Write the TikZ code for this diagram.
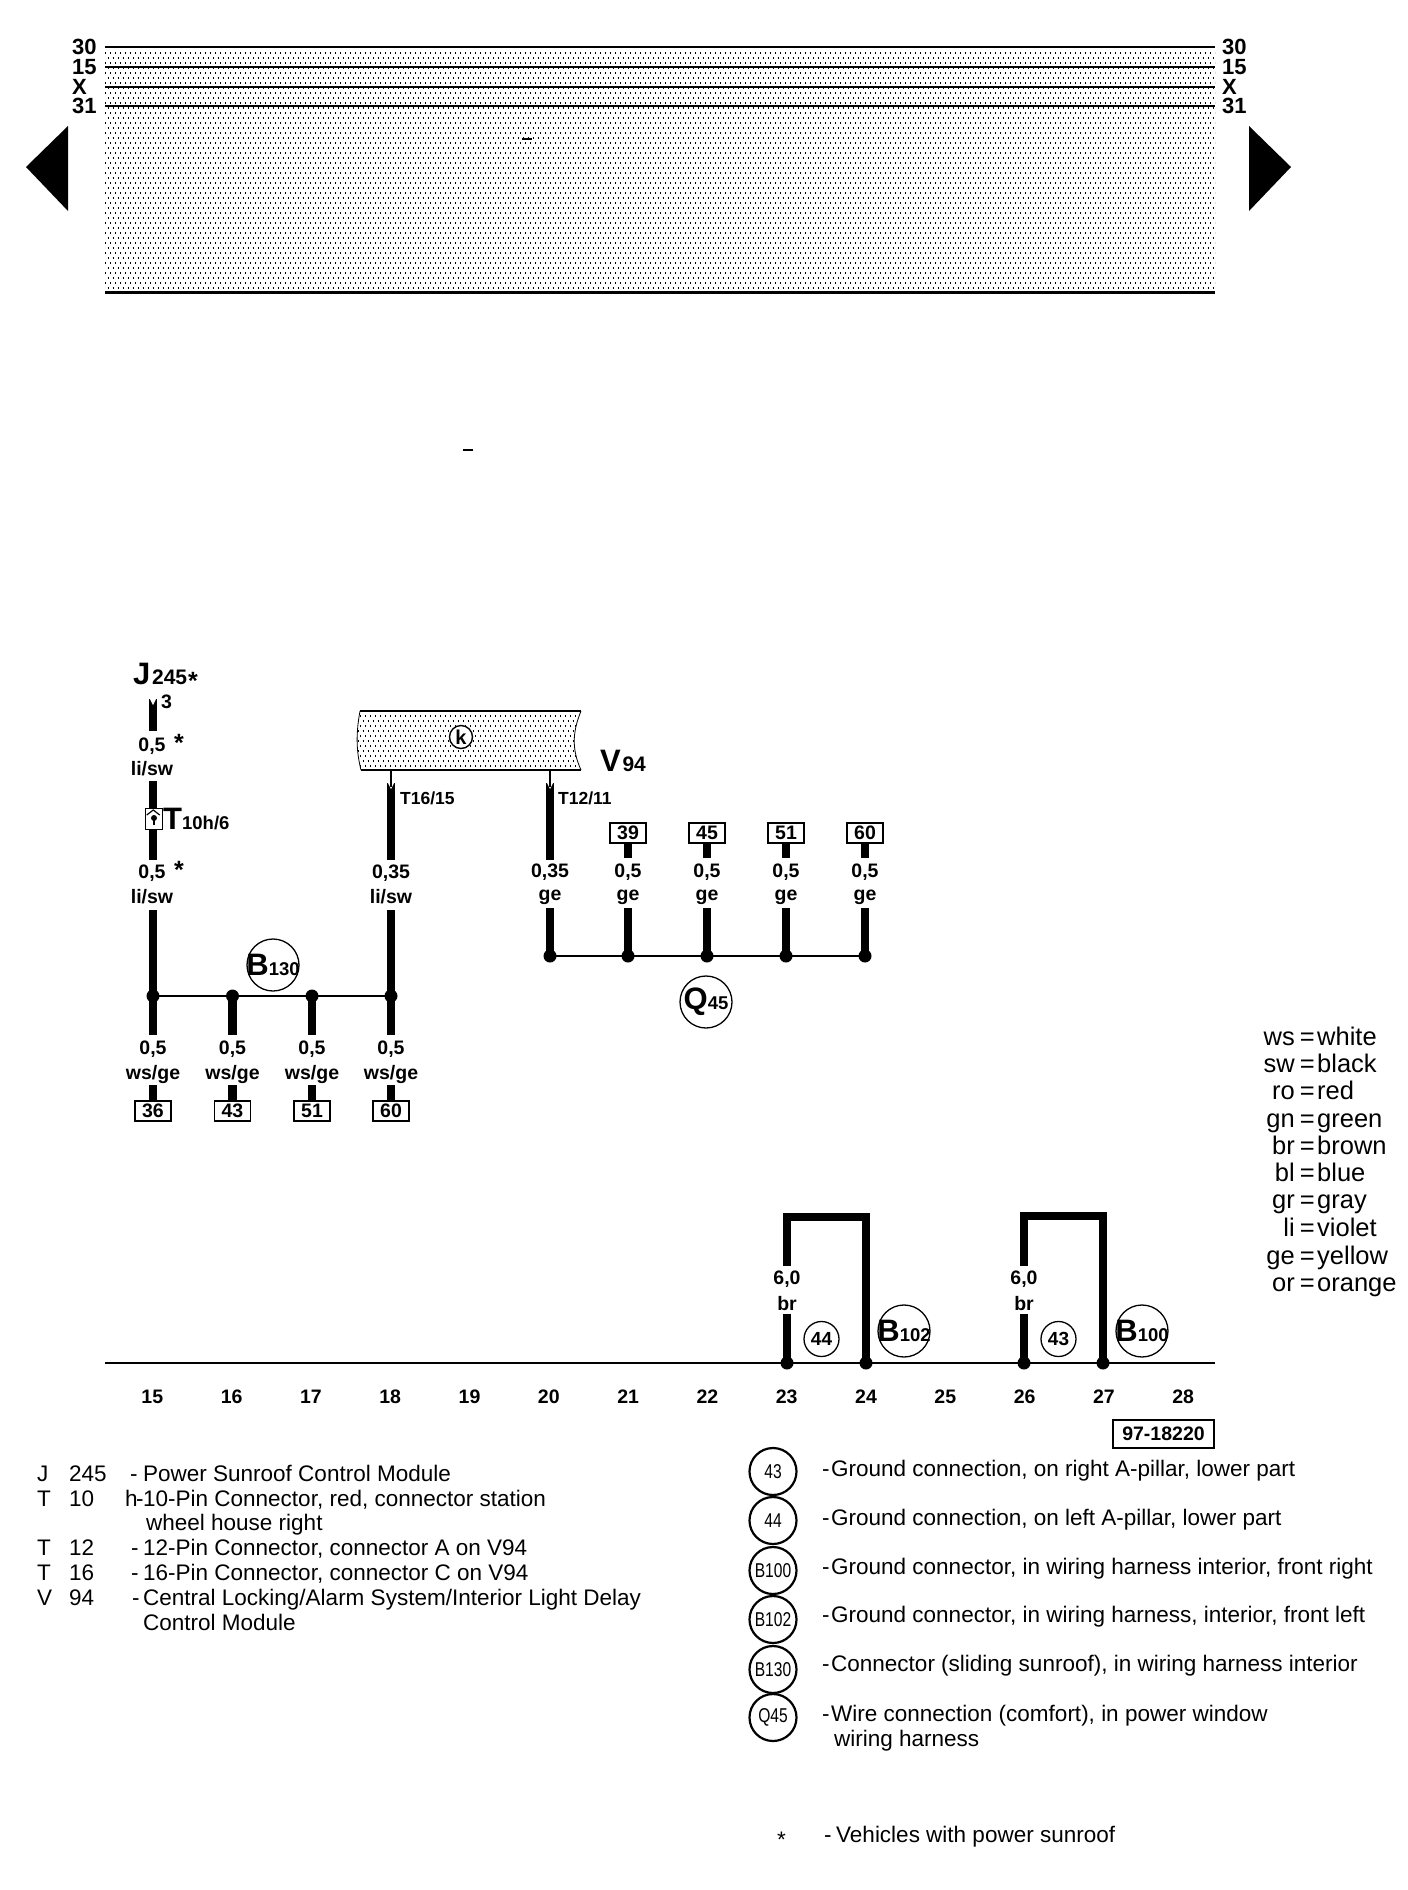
\documentclass[tikz,border=0pt]{standalone}
\usepackage{fontspec}
\setmainfont{Liberation Sans}
\newfontfamily\narrowfont[FakeStretch=0.78]{Liberation Sans}

\newcommand{\px}[1]{\fontsize{#1}{#1}\selectfont}
\newcommand{\bigtag}[2]{{\px{31}\bfseries #1}{\px{18.5}\bfseries #2}}
\newcommand{\pinnotch}[2]{\fill[white] (#1-3.5,#2-1) -- (#1+3.5,#2-1) -- (#1,#2+6) -- cycle;}

\tikzset{
	wire/.style={line width=8.5pt},
	bus/.style={line width=2.6pt},
	rail/.style={line width=2.4pt},
	stub/.style={line width=2pt},
	dotrow/.style={line width=1.25pt,dash pattern=on 1.4pt off 3.6pt},
	junction/.style={circle,fill=black,inner sep=0pt,minimum size=13pt},
	wiretext/.style={font=\px{19.5}\bfseries,inner sep=0pt},
	startext/.style={font=\px{25}\bfseries,inner sep=0pt},
	railtext/.style={font=\px{22}\bfseries,inner sep=0pt,anchor=west},
	pintext/.style={font=\px{17.5}\bfseries,inner sep=0pt,anchor=base west},
	pinbox/.style={draw,line width=1.4pt,fill=white,inner sep=0pt,minimum width=36pt,minimum height=20pt,font=\px{19.5}\bfseries},
	bigring/.style={circle,draw,line width=1.3pt,inner sep=0pt,minimum size=52pt},
	smallring/.style={circle,draw,line width=1.3pt,inner sep=0pt,minimum size=35pt,font=\px{19}\bfseries},
	legendring/.style={circle,draw,line width=2.2pt,inner sep=0pt,minimum size=47pt,font=\narrowfont\px{20}},
	legendtext/.style={font=\px{22.5},inner sep=0pt,anchor=base west},
	colortext/.style={font=\px{25.5},inner sep=0pt,anchor=base east},
	colorname/.style={font=\px{25.5},inner sep=0pt,anchor=base west},
}

\begin{document}
\begin{tikzpicture}[x=1pt,y=-1pt]
	\useasboundingbox (0,0) rectangle (1408,1890);

	% Shaded band
	\foreach \r [count=\k] in {53,58,...,288} {
			\ifodd\k
				\draw[dotrow] (105,\r) -- (1215,\r);
			\else
				\draw[dotrow,dash phase=2.5pt] (105,\r) -- (1215,\r);
			\fi
		}

	% Rails
	\foreach \n/\y in {30/47,15/67,X/87,31/106} {
			\node[railtext] (left\n) at (72,\y) {\n};
			\node[railtext] (right\n) at (1222,\y) {\n};
			\draw[rail] (105,\y) -- (1215,\y);
		}
	\draw[line width=3pt] (105,292) -- (1215,292);

	% Page arrows
	\fill (26,167) -- (68,126) -- (68,211) -- cycle;
	\fill (1291,167) -- (1249,126) -- (1249,211) -- cycle;

	% Specks
	\draw[line width=2pt] (522,139) -- (532,139);
	\draw[line width=2pt] (463,450) -- (473,450);

	% Control module V94
	\begin{scope}
		\clip (360,711) .. controls (356,733) and (356,750) .. (361,770) -- (581,770) .. controls (572,750) and (572,733) .. (581,711) -- cycle;
		\foreach \r [count=\k] in {716,721,...,766} {
				\ifodd\k
					\draw[dotrow] (350,\r) -- (590,\r);
				\else
					\draw[dotrow,dash phase=2.5pt] (350,\r) -- (590,\r);
				\fi
			}
	\end{scope}
	\draw[line width=2.2pt] (360,711) -- (581,711);
	\draw[line width=2.2pt] (361,770) -- (581,770);
	\draw[line width=0.8pt] (360,711) .. controls (356,733) and (356,750) .. (361,770);
	\draw[line width=0.8pt] (581,711) .. controls (572,733) and (572,750) .. (581,770);
	\node[circle,draw,line width=1.4pt,fill=white,inner sep=0pt,minimum size=23pt,font=\px{20}\bfseries] (key) at (461,737) {k};
	\node[inner sep=0pt,anchor=base west] (v94) at (600,771) {{\px{31}\bfseries V}\,{\px{21}\bfseries 94}};

	% Module J245 and connector T10h
	\node[inner sep=0pt,anchor=base west] (j245) at (133,684) {{\px{31}\bfseries J}\,{\px{21}\bfseries 245}};
	\node[startext] (star1) at (193,681) {*};
	\coordinate (jtop) at (153,699);
	\coordinate (jend) at (153,731);
	\draw[wire] (jtop) -- (jend);
	\pinnotch{153}{699}
	\node[wiretext,anchor=base west] (pinj) at (161,708) {3};
	\node[wiretext] (size0) at (152,746) {0,5};
	\node[startext] (star2) at (179,743) {*};
	\node[wiretext] (color0) at (152,769) {li/sw};
	\node[wiretext] (size1) at (152,873) {0,5};
	\node[startext] (star3) at (179,870) {*};
	\node[wiretext] (color1) at (152,897) {li/sw};
	\coordinate (t10top) at (153,781);
	\coordinate (t10end) at (153,860);
	\draw[wire] (t10top) -- (t10end);
	\node[draw,line width=1.5pt,fill=white,inner sep=0pt,minimum width=17pt,minimum height=21pt] (lock) at (154,819) {};
	\fill (lock.center) ++(0,-1) circle (3pt);
	\draw[line width=2pt] (lock.center) ++(0,-1) -- ++(0,7);
	\draw[line width=1.2pt] (lock.west) ++(2,-4) -- ++(6.5,-5) -- ++(6.5,5);
	\node[inner sep=0pt,anchor=base west] (t10) at (163,829) {\bigtag{T}{10h/6}};

	% Connector B130
	\foreach \x/\name/\pin in {153/a/36,232.5/b/43,312/c/51,391/d/60} {
			\node[junction] (j\name) at (\x,996) {};
			\node[wiretext] (size\name) at (\x,1049) {0,5};
			\node[wiretext] (color\name) at (\x,1074) {ws/ge};
			\node[pinbox] (pin\name) at (\x,1111) {\pin};
			\coordinate (end\name) at (\x,1035);
			\coordinate (top\name) at (\x,1085);
			\draw[wire] (j\name.center) -- (end\name);
			\draw[wire] (top\name) -- (pin\name.north);
		}
	\draw[bus] (ja.center) -- (jd.center);
	\coordinate (upa) at (153,910);
	\coordinate (upd) at (391,910);
	\draw[wire] (upa) -- (ja.center);
	\draw[wire] (upd) -- (jd.center);
	\node[bigring,label={center:\bigtag{B}{130}}] (b130) at (273,965) {};

	% Pins T16 and T12
	\coordinate (stube) at (391,771);
	\coordinate (wiree) at (391,783);
	\coordinate (ende) at (391,860);
	\draw[wire] (wiree) -- (ende);
	\pinnotch{391}{783}
	\draw[stub] (stube) -- (391,787);
	\node[pintext] (t16) at (400,804) {T16/15};
	\node[wiretext] (sizee) at (391,873) {0,35};
	\node[wiretext] (colore) at (391,897) {li/sw};
	\coordinate (stubf) at (550,771);
	\coordinate (wiref) at (550,783);
	\coordinate (endf) at (550,860);
	\draw[wire] (wiref) -- (endf);
	\pinnotch{550}{783}
	\draw[stub] (stubf) -- (550,787);
	\node[pintext] (t12) at (558,804) {T12/11};

	% Connector Q45
	\foreach \x/\name/\s in {550/f/0{,}35,628/g/0{,}5,707/h/0{,}5,786/i/0{,}5,865/k/0{,}5} {
			\node[junction] (j\name) at (\x,956) {};
			\node[wiretext] (lab\name) at (\x,872) {\s};
			\node[wiretext] (color\name) at (\x,897) {ge};
			\coordinate (top\name) at (\x,908);
			\draw[wire] (top\name) -- (j\name.center);
		}
	\foreach \name/\pin in {g/39,h/45,i/51,k/60} {
			\node[pinbox] (pin\name) at (labg -| j\name) [yshift=39pt] {\pin};
			\coordinate (end\name) at (j\name |- 0,858);
			\draw[wire] (pin\name.south) -- (end\name);
		}
	\draw[bus] (jf.center) -- (jk.center);
	\node[bigring,label={center:\bigtag{Q}{45}}] (q45) at (706,1002) {};

	% Ground rail
	\coordinate (railstart) at (105,1363);
	\coordinate (railend) at (1215,1363);
	\draw[bus] (railstart) -- (railend);
	\foreach \x/\y/\name/\ring/\bx/\bnum in {787/1217/l/44/904/102,1024/1216/m/43/1142/100} {
			\node[junction] (g\name) at (\x,1363) {};
			\node[junction] (h\name) at (\x+79,1363) {};
			\coordinate (cl\name) at (\x,\y);
			\coordinate (cr\name) at (\x+79,\y);
			\coordinate (gap\name) at (\x,1266);
			\coordinate (back\name) at (\x,1314);
			\draw[wire] (gap\name) -- (cl\name) -- (cr\name) -- (h\name.center);
			\draw[wire] (back\name) -- (g\name.center);
			\node[wiretext] (size\name) at (\x,1279) {6,0};
			\node[wiretext] (color\name) at (\x,1304) {br};
			\node[smallring] (ring\name) at (\x+34.5,1339) {\ring};
			\node[bigring,label={center:\bigtag{B}{\bnum}}] (b\name) at (\bx,1331) {};
		}

	% Column numbers
	\foreach \n [count=\k from 0] in {15,...,28} {
			\node[wiretext] (num\n) at ({152.3+\k*79.3},1397) {\n};
		}
	\node[draw,line width=1.4pt,inner sep=0pt,minimum width=101pt,minimum height=28pt,font=\px{19.5}\bfseries] (docnum) at (1163.5,1434) {97-18220};

	% Color legend
	\foreach \c/\w/\y in {ws/white/1045,sw/black/1072,ro/red/1099,gn/green/1127,br/brown/1154,bl/blue/1181,gr/gray/1208,li/violet/1236,ge/yellow/1264,or/orange/1291} {
			\node[colortext] (code\c) at (1295,\y) {\c};
			\node[colortext] (eq\c) at (1315,\y) {=};
			\node[colorname] (name\c) at (1317,\y) {\w};
		}

	% Left legend
	\node[legendtext] (la1) at (37,1481.5) {J};
	\node[legendtext] (la2) at (69,1481.5) {245};
	\node[legendtext] (la3) at (130,1481.5) {-};
	\node[legendtext] (la4) at (143,1481.5) {Power Sunroof Control Module};
	\node[legendtext] (lb1) at (37,1506.5) {T};
	\node[legendtext] (lb2) at (69,1506.5) {10};
	\node[legendtext] (lb3) at (125,1506.5) {h};
	\node[legendtext] (lb4) at (136,1506.5) {-};
	\node[legendtext] (lb5) at (143,1506.5) {10-Pin Connector, red, connector station};
	\node[legendtext] (lb6) at (146,1530.5) {wheel house right};
	\node[legendtext] (lc1) at (37,1555.5) {T};
	\node[legendtext] (lc2) at (69,1555.5) {12};
	\node[legendtext] (lc3) at (131,1555.5) {-};
	\node[legendtext] (lc4) at (143,1555.5) {12-Pin Connector, connector A on V94};
	\node[legendtext] (ld1) at (37,1580.5) {T};
	\node[legendtext] (ld2) at (69,1580.5) {16};
	\node[legendtext] (ld3) at (131,1580.5) {-};
	\node[legendtext] (ld4) at (143,1580.5) {16-Pin Connector, connector C on V94};
	\node[legendtext] (le1) at (37,1605.5) {V};
	\node[legendtext] (le2) at (69,1605.5) {94};
	\node[legendtext] (le3) at (132,1605.5) {-};
	\node[legendtext] (le4) at (143,1605.5) {Central Locking/Alarm System/Interior Light Delay};
	\node[legendtext] (le5) at (143,1630.5) {Control Module};

	% Right legend
	\foreach \t/\ry/\ty/\txt in {43/1471.5/1476.5/Ground connection{,} on right A-pillar{,} lower part,
			44/1520.5/1525.5/Ground connection{,} on left A-pillar{,} lower part,
			B100/1570.5/1574/Ground connector{,} in wiring harness interior{,} front right,
			B102/1619.5/1622/Ground connector{,} in wiring harness{,} interior{,} front left,
			B130/1669.5/1671.5/Connector (sliding sunroof){,} in wiring harness interior,
			Q45/1717.5/1721/Wire connection (comfort){,} in power window} {
			\node[legendring] (ring\t) at (773,\ry) {\t};
			\node[legendtext] (dash\t) at (822,\ty) {-};
			\node[legendtext] (text\t) at (831,\ty) {\txt};
		}
	\node[legendtext] (textQb) at (834,1746) {wiring harness};
	\node[legendtext] (starkey) at (777,1847) {*};
	\node[legendtext] (dashstar) at (824,1842.5) {-};
	\node[legendtext] (textstar) at (836,1842.5) {Vehicles with power sunroof};

\end{tikzpicture}
\end{document}
